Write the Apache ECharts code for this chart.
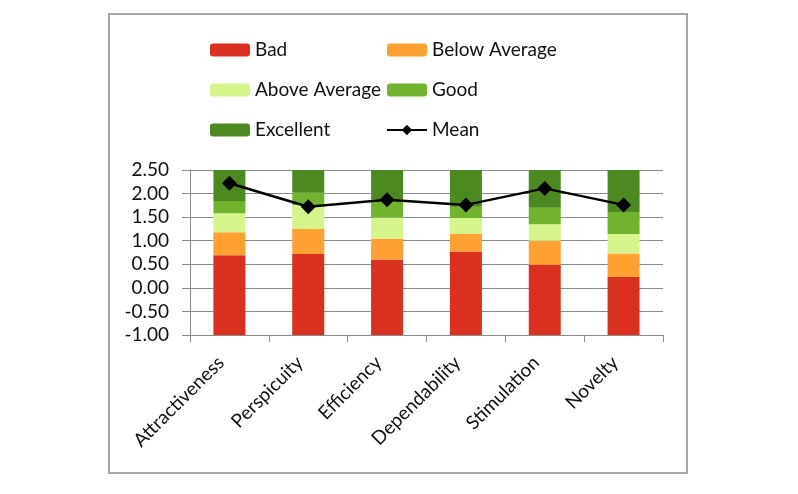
<!DOCTYPE html>
<html>
<head>
<meta charset="utf-8">
<script src="https://cdn.jsdelivr.net/npm/echarts@6/dist/echarts.min.js"></script>
<style>
  html, body { margin: 0; padding: 0; background: #fff; }
  #main { width: 798px; height: 494px; }
</style>
</head>
<body>
<div id="main"></div>
<script>
// UEQ benchmark: upper bounds of each band
const scales = ['Attractiveness', 'Perspicuity', 'Efficiency', 'Dependability', 'Stimulation', 'Novelty'];
const badTop = [0.69, 0.72, 0.60, 0.77, 0.49, 0.23];
const belowTop = [1.18, 1.25, 1.04, 1.14, 1.00, 0.73];
const aboveTop = [1.58, 1.76, 1.49, 1.48, 1.35, 1.14];
const goodTop = [1.84, 2.02, 1.87, 1.72, 1.70, 1.61];
const excellentTop = [2.50, 2.50, 2.50, 2.50, 2.50, 2.50];
const meanValues = [2.22, 1.72, 1.87, 1.76, 2.11, 1.76];
const axisMin = -1.00;

const colors = {
    bad: '#DA3020',
    below: '#FFA032',
    above: '#D5F58C',
    good: '#72B32E',
    excellent: '#4C8920'
};

const fontFamily = 'Lato, "Liberation Sans", sans-serif';
const gridColor = '#8c8c8c';

// segment heights between band bounds
const diff = (hi, lo) => hi.map((v, i) => +(v - (Array.isArray(lo) ? lo[i] : lo)).toFixed(2));

var chartDom = document.getElementById('main');
var myChart = echarts.init(chartDom);

const bandSeries = (name, data, color) => ({
    name: name,
    type: 'bar',
    stack: 'bench',
    stackStrategy: 'all',
    barWidth: 32,
    itemStyle: { color: color },
    emphasis: { disabled: true },
    data: data
});

const legendText = { fontFamily: fontFamily, fontSize: 19, color: '#111', lineHeight: 20 };

var option = {
    animation: false,
    graphic: [{
        type: 'rect',
        shape: { x: 109, y: 14, width: 578, height: 459 },
        style: { fill: 'none', stroke: '#a6a6a6', lineWidth: 2 },
        silent: true
    }],
    legend: [
        {
            orient: 'vertical',
            left: 205,
            top: 35,
            itemWidth: 40,
            itemHeight: 13,
            itemGap: 20,
            textStyle: legendText,
            data: ['Bad', 'Above Average', 'Excellent']
        },
        {
            orient: 'vertical',
            left: 381,
            top: 35,
            itemWidth: 40,
            itemHeight: 13,
            itemGap: 20,
            textStyle: legendText,
            data: ['Below Average', 'Good', 'Mean']
        }
    ],
    grid: {
        left: 190,
        right: 135,
        top: 170,
        bottom: 159
    },
    xAxis: {
        type: 'category',
        data: scales,
        axisLine: { onZero: false, lineStyle: { color: gridColor, width: 1 } },
        axisTick: { show: true, length: 7, lineStyle: { color: gridColor } },
        axisLabel: {
            rotate: 45,
            margin: 16,
            padding: [0, 12, 0, 0],
            fontFamily: fontFamily,
            fontSize: 19,
            color: '#111'
        }
    },
    yAxis: {
        type: 'value',
        min: -1,
        max: 2.5,
        interval: 0.5,
        axisLine: { show: true, lineStyle: { color: gridColor, width: 1 } },
        axisTick: { show: true, length: 8, lineStyle: { color: gridColor } },
        splitLine: { lineStyle: { color: gridColor, width: 1 } },
        axisLabel: {
            margin: 21,
            fontFamily: fontFamily,
            fontSize: 19,
            color: '#111',
            formatter: v => v.toFixed(2)
        }
    },
    series: [
        {
            name: 'base',
            type: 'bar',
            stack: 'bench',
            stackStrategy: 'all',
            barWidth: 32,
            itemStyle: { color: 'transparent' },
            silent: true,
            data: scales.map(() => axisMin)
        },
        bandSeries('Bad', diff(badTop, axisMin), colors.bad),
        bandSeries('Below Average', diff(belowTop, badTop), colors.below),
        bandSeries('Above Average', diff(aboveTop, belowTop), colors.above),
        bandSeries('Good', diff(goodTop, aboveTop), colors.good),
        bandSeries('Excellent', diff(excellentTop, goodTop), colors.excellent),
        {
            name: 'Mean',
            type: 'line',
            z: 10,
            symbol: 'diamond',
            symbolSize: 15,
            color: '#000',
            lineStyle: { color: '#000', width: 2.5 },
            itemStyle: { color: '#000' },
            data: meanValues
        }
    ]
};
option && myChart.setOption(option);
</script>
</body>
</html>
